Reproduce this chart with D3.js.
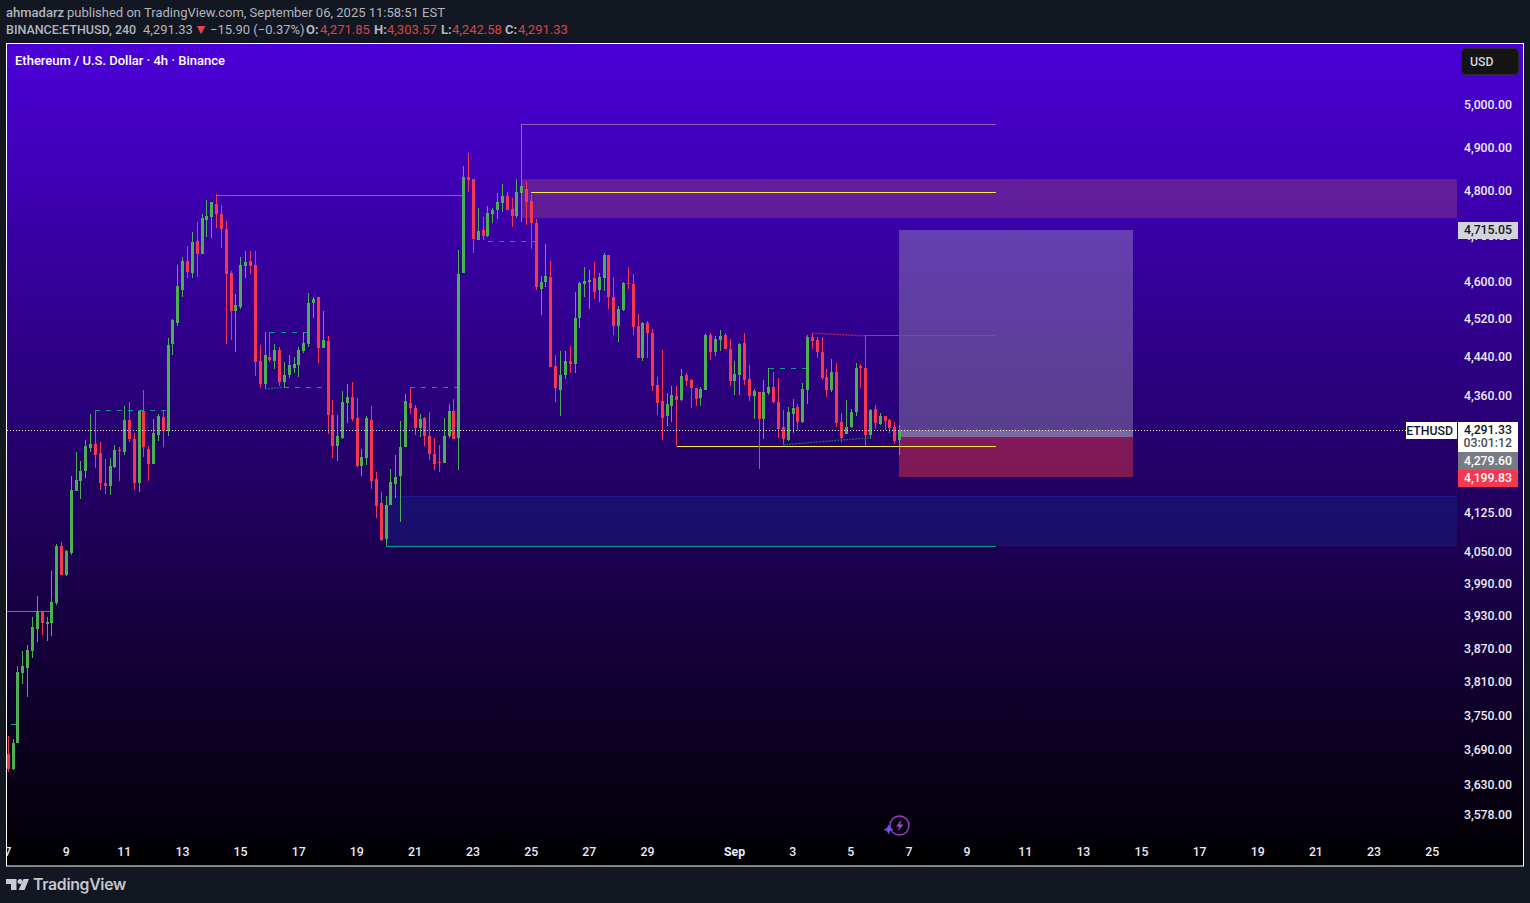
<!DOCTYPE html>
<html><head><meta charset="utf-8">
<script src="https://cdn.jsdelivr.net/npm/d3@7/dist/d3.min.js"></script>
<style>html,body{margin:0;padding:0;background:#131722;overflow:hidden}svg{display:block}
text{font-family:Roboto,"Liberation Sans",Arial,sans-serif}</style></head><body><svg id="c" width="1530" height="903"></svg>
<script>
const opens=[3686,3659,3704,3829,3838,3869,3909,3941,3917,3919,
3957,4065,4010,4052,4172,4191,4211,4257,4265,4247,
4187,4180,4219,4253,4249,4312,4275,4186,4332,4255,
4225,4283,4318,4291,4471,4515,4586,4649,4623,4693,
4664,4739,4746,4775,4751,4719,4621,4539,4549,4638,
4649,4640,4435,4387,4443,4435,4458,4391,4406,4420,
4425,4456,4471,4558,4569,4462,4477,4324,4261,4276,
4348,4360,4317,4221,4237,4313,4195,4148,4078,4144,
4185,4201,4258,4348,4338,4297,4316,4281,4245,4229,
4227,4281,4332,4277,4623,4836,4832,4695,4717,4704,
4753,4760,4777,4793,4764,4748,4800,4809,4782,4731,
4588,4603,4614,4424,4374,4405,4435,4429,4525,4597,
4603,4610,4586,4612,4661,4571,4508,4543,4601,4599,
4509,4441,4515,4494,4385,4352,4320,4342,4362,4354,
4406,4395,4379,4358,4375,4490,4454,4479,4490,4459,
4393,4406,4472,4397,4362,4371,4315,4369,4381,4350,
4299,4272,4325,4340,4309,4375,4485,4479,4454,4401,
4375,4412,4309,4284,4299,4330,4423,4420,4282,4336,
4305,4321,4313,4299,4271.85];
const highs=[3717,3712,3841,3869,3880,3930,3969,3941,3930,4016,
4069,4073,4056,4201,4249,4231,4273,4326,4334,4269,
4235,4237,4263,4259,4342,4350,4287,4334,4374,4261,
4314,4326,4332,4482,4522,4640,4656,4682,4712,4735,
4753,4784,4780,4796,4773,4737,4627,4577,4656,4669,
4671,4671,4467,4496,4496,4471,4464,4433,4446,4443,
4464,4496,4579,4570,4570,4539,4486,4354,4324,4373,
4387,4391,4358,4255,4320,4342,4209,4169,4162,4215,
4243,4311,4367,4380,4344,4326,4318,4330,4277,4263,
4316,4346,4356,4672,4861,4891,4832,4766,4746,4771,
4766,4800,4820,4802,4789,4832,4829,4827,4798,4742,
4616,4686,4648,4447,4456,4456,4466,4581,4603,4635,
4629,4646,4623,4666,4661,4614,4551,4603,4635,4620,
4534,4517,4519,4502,4401,4458,4369,4383,4383,4418,
4410,4397,4379,4381,4492,4494,4487,4500,4494,4481,
4435,4472,4494,4427,4377,4371,4395,4420,4412,4399,
4334,4340,4356,4346,4389,4490,4494,4485,4485,4418,
4439,4431,4327,4354,4336,4431,4429,4490,4336,4344,
4327,4321,4315,4309,4303.57];
const lows=[3654,3657,3704,3808,3785,3856,3884,3897,3887,3895,
3954,4010,4008,4048,4172,4156,4197,4249,4217,4174,
4166,4164,4217,4190,4243,4269,4174,4170,4239,4190,
4225,4271,4259,4281,4446,4507,4569,4610,4610,4614,
4664,4701,4699,4721,4677,4469,4479,4454,4545,4612,
4619,4404,4379,4377,4433,4418,4383,4379,4398,4410,
4402,4452,4464,4526,4431,4462,4285,4237,4231,4274,
4307,4311,4219,4201,4223,4175,4119,4075,4064,4144,
4157,4111,4258,4326,4283,4279,4261,4233,4213,4209,
4227,4277,4275,4213,4623,4802,4666,4695,4695,4702,
4733,4740,4757,4760,4724,4744,4736,4727,4675,4586,
4532,4592,4422,4350,4320,4397,4410,4410,4504,4569,
4545,4566,4560,4584,4545,4490,4475,4540,4588,4490,
4441,4435,4441,4373,4323,4272,4301,4309,4260,4352,
4383,4338,4342,4342,4375,4437,4445,4456,4459,4383,
4364,4364,4385,4352,4315,4215,4274,4364,4348,4276,
4262,4270,4286,4293,4307,4346,4460,4441,4395,4360,
4371,4299,4268,4284,4297,4321,4379,4260,4274,4295,
4303,4293,4286,4264,4242.58];
const closes=[3659,3705,3831,3841,3871,3913,3941,3919,3922,3959,
4065,4010,4054,4174,4193,4211,4261,4265,4243,4186,
4181,4221,4253,4251,4312,4275,4186,4332,4259,4225,
4287,4320,4291,4468,4520,4593,4649,4625,4690,4664,
4744,4748,4778,4751,4719,4619,4541,4553,4640,4647,
4638,4433,4387,4446,4437,4458,4391,4406,4425,4429,
4458,4473,4558,4566,4462,4479,4324,4261,4280,4350,
4360,4315,4221,4239,4316,4191,4142,4076,4144,4189,
4199,4258,4352,4338,4297,4314,4281,4245,4225,4227,
4281,4332,4275,4620,4836,4829,4697,4715,4704,4755,
4762,4780,4793,4760,4748,4802,4815,4780,4731,4592,
4603,4616,4422,4378,4405,4435,4429,4525,4601,4605,
4607,4581,4614,4661,4569,4508,4545,4601,4597,4506,
4441,4515,4494,4383,4348,4317,4346,4364,4354,4403,
4393,4379,4356,4377,4490,4454,4481,4487,4459,4393,
4408,4470,4395,4362,4373,4315,4371,4381,4350,4295,
4274,4330,4338,4309,4377,4485,4477,4454,4399,4375,
4412,4307,4276,4299,4330,4420,4420,4282,4334,4307,
4321,4311,4297,4270,4291.33];

const priceTicks=[5000,4900,4800,4700,4600,4520,4440,4360,4125,4050,3990,3930,3870,3810,3750,3690,3630,3578];
const dayOffsets=[0,2,4,6,8,10,12,14,16,18,20,22,25,27,29,31,33,35,37,39,41,43,45,47,49];
const dayLabels=["7","9","11","13","15","17","19","21","23","25","27","29","Sep","3","5","7","9","11","13","15","17","19","21","23","25"];

// drawings: [startCandle, endCandle, price]
const solidLevels=[[43,94,4795],[-1,9,3942],[0.6,1.6,3738]];
const dashedUp=[[18,33,4334],[54,62,4495],[83,93,4380],[157,165,4420]];
const dashedDown=[[57,65,4380],[99,109,4692]];
const yellowLevels=[[108,204,4802],[138,204,4261]];
const tallLevel=[105.9,204,4958,4735];
const sellSideLine=[78,204,4065];
const blueLine=[177,204,4489];
const slopeTeal=[[53,56.7,4376,4380],[160,178,4263,4277]];
const slopeRed=[[166,177,4493,4487]];
const supplyZone=[105.9,4831,4743];
const demandZone=[78,4161,4065];
const longBox={start:183.9,end:232.2,target:4715.05,entry:4279.60,stop:4199.83};
const lastClose=4291.33;

const svg=d3.select("#c");
const defs=svg.append("defs");
const g=defs.append("linearGradient").attr("id","bg").attr("x1",0).attr("x2",0).attr("y1",0).attr("y2",1);
g.append("stop").attr("offset",0).attr("stop-color","#4b00d8");
g.append("stop").attr("offset",1).attr("stop-color","#000000");
defs.append("clipPath").attr("id","plot").append("rect").attr("x",7).attr("y",44).attr("width",1516).attr("height",822);
defs.append("clipPath").attr("id","pane").append("rect").attr("x",7).attr("y",44).attr("width",1450).attr("height",822);

const x=d3.scaleLinear().domain([0,294]).range([8.3,8.3+4.844*294]);
const y=d3.scaleLog().domain([5000,3578]).range([106,106+2124*Math.log(5000/3578)]);
const dayX=d=>x(d*6);

svg.append("rect").attr("x",6.5).attr("y",43.5).attr("width",1517).attr("height",822.5)
  .attr("fill","url(#bg)").attr("stroke","#ffffff").attr("stroke-width",1);

const pane=svg.append("g").attr("clip-path","url(#pane)");
const crisp=pane.append("g").attr("shape-rendering","crispEdges");

// zones
crisp.append("rect").attr("x",x(supplyZone[0])).attr("y",y(supplyZone[1])).attr("width",1457-x(supplyZone[0]))
  .attr("height",y(supplyZone[2])-y(supplyZone[1])).attr("fill","rgba(176,93,111,0.32)");
crisp.append("rect").attr("x",x(demandZone[0])).attr("y",y(demandZone[1])).attr("width",1457-x(demandZone[0]))
  .attr("height",y(demandZone[2])-y(demandZone[1])).attr("fill","rgba(15,50,150,0.3)").attr("stroke","rgba(30,30,170,0.5)");

// long box
const bx=x(longBox.start),bw=x(longBox.end)-bx;
const yT=Math.floor(y(longBox.target)),yE=Math.round(y(longBox.entry))+1,yS=Math.ceil(y(longBox.stop)),yL=Math.floor(y(lastClose));
crisp.append("rect").attr("x",bx).attr("y",yT).attr("width",bw).attr("height",yE-yT).attr("fill","rgba(200,200,200,0.31)");
crisp.append("rect").attr("x",bx).attr("y",yL).attr("width",bw).attr("height",yE-yL).attr("fill","rgba(200,200,200,0.3)");
crisp.append("rect").attr("x",bx).attr("y",yE).attr("width",bw).attr("height",yS-yE).attr("fill","rgba(255,60,60,0.42)");

// level lines
function level(d,color,dash){crisp.append("line").attr("x1",x(d[0])).attr("x2",x(d[1])).attr("y1",Math.round(y(d[2]))+.5).attr("y2",Math.round(y(d[2]))+.5)
  .attr("stroke",color).attr("stroke-width",1).attr("stroke-dasharray",dash||null);}
solidLevels.forEach(d=>level(d,"#1f9c8f"));
dashedUp.forEach(d=>level(d,"#0f9a80","5,6"));
dashedDown.forEach(d=>level(d,"#d83a5a","5,6"));
yellowLevels.forEach(d=>level(d,"#ffeb3b"));
level(sellSideLine,"#089981");
level(blueLine,"#3d5ae0");
level([tallLevel[0],tallLevel[1],tallLevel[2]],"#8f62b0");
crisp.append("line").attr("x1",Math.floor(x(tallLevel[0]))+.5).attr("x2",Math.floor(x(tallLevel[0]))+.5)
  .attr("y1",y(tallLevel[2])).attr("y2",y(tallLevel[3])).attr("stroke","#6a86b0");
crisp.append("line").attr("x1",Math.round(x(sellSideLine[0]))+.5).attr("x2",Math.round(x(sellSideLine[0]))+.5)
  .attr("y1",y(demandZone[1])).attr("y2",y(sellSideLine[2])).attr("stroke","#089981");
slopeTeal.forEach(d=>pane.append("line").attr("x1",x(d[0])).attr("x2",x(d[1])).attr("y1",y(d[2])).attr("y2",y(d[3])).attr("stroke","#14636f").attr("stroke-width",1.4).attr("stroke-dasharray","2,1"));
slopeRed.forEach(d=>pane.append("line").attr("x1",x(d[0])).attr("x2",x(d[1])).attr("y1",y(d[2])).attr("y2",y(d[3])).attr("stroke","#a8285e").attr("stroke-width",1.4).attr("stroke-dasharray","2,1"));

// candles
const UP="#4caf50",DOWN="#f7374f";
const idx=d3.range(opens.length);
const cx=i=>Math.round(x(i)-0.5);
const cg=crisp.append("g");
cg.selectAll("line.w").data(idx).join("line").attr("class","w")
  .attr("x1",i=>cx(i)+.5).attr("x2",i=>cx(i)+.5)
  .attr("y1",i=>Math.round(y(highs[i]))).attr("y2",i=>Math.round(y(lows[i])))
  .attr("stroke",i=>closes[i]>=opens[i]?UP:DOWN);
cg.selectAll("rect.b").data(idx).join("rect").attr("class","b")
  .attr("x",i=>cx(i)-1).attr("width",3)
  .attr("y",i=>Math.round(y(Math.max(opens[i],closes[i]))))
  .attr("height",i=>Math.max(1,Math.round(y(Math.min(opens[i],closes[i])))-Math.round(y(Math.max(opens[i],closes[i])))))
  .attr("fill",i=>closes[i]>=opens[i]?UP:DOWN);

// current price line
const lastY=Math.floor(y(lastClose))+.5;
svg.append("line").attr("x1",7).attr("x2",1406).attr("y1",lastY).attr("y2",lastY)
  .attr("stroke","#ffffff").attr("stroke-width",1).attr("stroke-dasharray","1,2");

// price axis labels
const fmt=d3.format(",.2f");
const ax=svg.append("g").attr("font-size","12.3px").attr("fill","#ecebf4").attr("font-weight",500);
ax.selectAll("text").data(priceTicks).join("text").attr("x",1512).attr("text-anchor","end")
  .attr("y",d=>y(d)-1.7).attr("dy","0.36em").text(fmt);

// date axis
const da=svg.append("g").attr("clip-path","url(#plot)").attr("font-size","12.3px").attr("font-weight",500).attr("fill","#ecebf4");
da.selectAll("text").data(dayOffsets).join("text").attr("x",d=>dayX(d)-0.3).attr("y",856).attr("text-anchor","middle")
  .attr("font-weight",(d,i)=>dayLabels[i]==="Sep"?700:500).text((d,i)=>dayLabels[i]);

// labels
function box(xx,yy,w,h,fill){return svg.append("rect").attr("x",xx).attr("y",yy).attr("width",w).attr("height",h).attr("fill",fill).attr("shape-rendering","crispEdges");}
function label(xx,yy,t,fill,anchor){return svg.append("text").attr("x",xx).attr("y",yy).attr("dy","0.36em").attr("font-size","12.3px").attr("font-weight",500).attr("fill",fill).attr("text-anchor",anchor||"end").text(t);}
box(1458,222,60,17,"#d1d4dc");label(1512,230,fmt(longBox.target),"#131722");
box(1406,422,51,17,"#ffffff");label(1453,430.5,"ETHUSD","#131722");
box(1458,422,60,30,"#ffffff");label(1512,429.5,fmt(lastClose),"#131722");label(1512,443,"03:01:12","#4a4d55");
box(1458,452,60,18,"#787b86");label(1512,461,fmt(longBox.entry),"#ffffff");
box(1458,470,60,17,"#f7374f");label(1512,478,fmt(longBox.stop),"#ffffff");

// USD button
svg.append("rect").attr("x",1461.5).attr("y",48.5).attr("width",57).attr("height",26).attr("rx",4).attr("fill","#141414").attr("stroke","#2a2a33");
label(1470,61.5,"USD","#d1d4dc","start");

// titles
svg.append("text").attr("x",15).attr("y",65).attr("font-size","13px").attr("font-weight",500).attr("fill","#ffffff").text("Ethereum / U.S. Dollar · 4h · Binance");

const H1=svg.append("text").attr("y",17).attr("font-size","13px").attr("fill","#b2b5be");
H1.append("tspan").attr("x",6).attr("font-weight",500).text("ahmadarz");
H1.append("tspan").attr("x",67).text("published on TradingView.com, September 06, 2025 11:58:51 EST");
const H2=svg.append("text").attr("y",34).attr("font-size","13px").attr("fill","#b2b5be");
H2.append("tspan").attr("x",6).attr("font-weight",500).attr("font-size","12.5px").text("BINANCE:ETHUSD, 240");
H2.append("tspan").attr("x",143).text("4,291.33");
H2.append("tspan").attr("x",194).attr("fill","#e04848").attr("font-size","14px").text("▼");
H2.append("tspan").attr("x",210).text("−15.90 (−0.37%)");
[["O:",opens[184],306,320],["H:",highs[184],374,387],["L:",lows[184],441,452],["C:",closes[184],505,518]].forEach(([k,v,a,b])=>{
  H2.append("tspan").attr("x",a).attr("font-weight",700).text(k);
  H2.append("tspan").attr("x",b).attr("fill","#d84545").text(fmt(v));
});

// bolt icon
const ic=svg.append("g");
ic.append("circle").attr("cx",899.5).attr("cy",825.5).attr("r",9.5).attr("fill","none").attr("stroke","#9c3cc4").attr("stroke-width",1.4);
ic.append("path").attr("d","M902 819.5 L896 826.5 L899.5 826.5 L897.5 831.5 L903.5 824.5 L900 824.5 Z").attr("fill","#b048d8");
ic.append("path").attr("d","M888.5 824.5 L890 828 L893.5 829.5 L890 831 L888.5 834.5 L887 831 L883.5 829.5 L887 828 Z").attr("fill","#6a55ee");

// logo
const lg=svg.append("g").attr("fill","#c9cbd0");
lg.append("path").attr("d","M6 879 H16.5 V890 H11 V884 H6 Z");
lg.append("circle").attr("cx",20).attr("cy",881.5).attr("r",2.5);
lg.append("path").attr("d","M23.5 879 H29 L24.5 890 H18.6 Z");
svg.append("text").attr("x",33).attr("y",890).attr("font-size","15.8px").attr("font-weight",600).attr("style","font-family:Inter").attr("letter-spacing","-0.3").attr("fill","#c4c6cb").text("TradingView");
</script></body></html>
